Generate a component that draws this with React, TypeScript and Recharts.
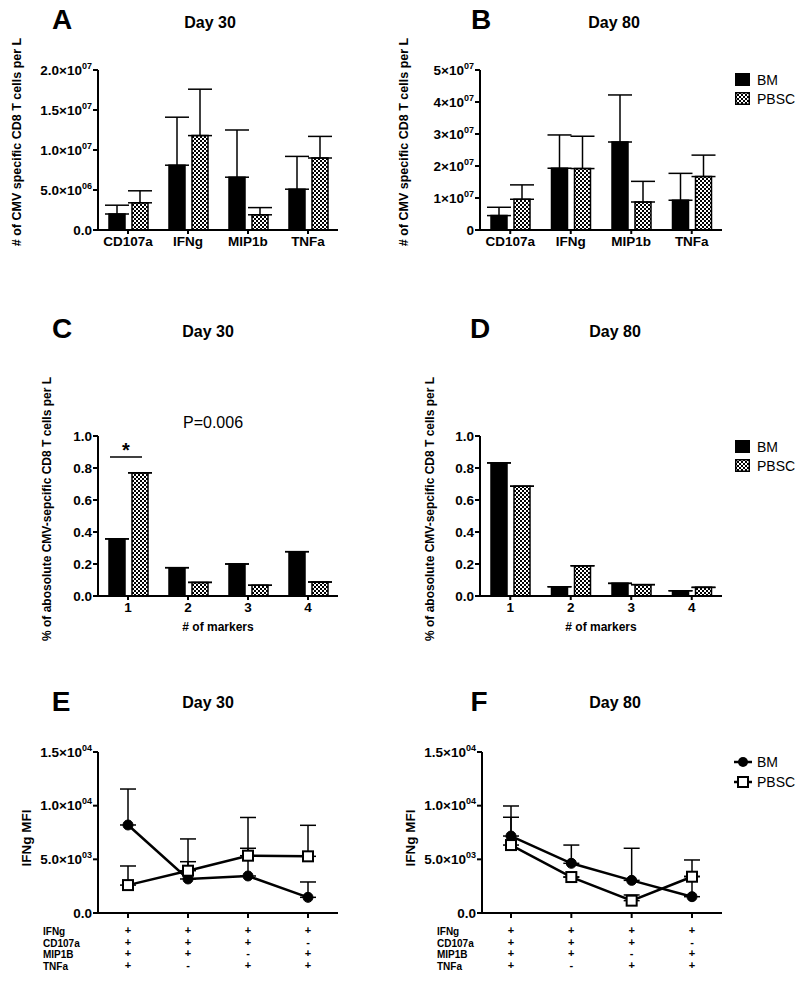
import React from 'react'
import { Bar, BarChart, ErrorBar, Line, LineChart, XAxis, YAxis } from 'recharts'

const FONT = '"Liberation Sans", Arial, Helvetica, sans-serif'

// A / B: cytokine-positive cells per L
const cytokines = ['CD107a', 'IFNg', 'MIP1b', 'TNFa']
const aBm = [2.0e6, 8.1e6, 6.6e6, 5.1e6]
const aBmErr = [1.1e6, 6.0e6, 5.9e6, 4.1e6]
const aPbsc = [3.4e6, 11.8e6, 1.9e6, 9.0e6]
const aPbscErr = [1.5e6, 5.8e6, 0.9e6, 2.7e6]
const bBm = [0.45e7, 1.93e7, 2.75e7, 0.93e7]
const bBmErr = [0.26e7, 1.04e7, 1.47e7, 0.84e7]
const bPbsc = [0.96e7, 1.92e7, 0.875e7, 1.67e7]
const bPbscErr = [0.45e7, 1.01e7, 0.645e7, 0.67e7]

// C / D: fraction by number of markers
const markerCounts = ['1', '2', '3', '4']
const cBm = [0.357, 0.177, 0.2, 0.277]
const cPbsc = [0.77, 0.085, 0.067, 0.0875]
const dBm = [0.832, 0.058, 0.079, 0.033]
const dPbsc = [0.686, 0.189, 0.071, 0.054]

// E / F: IFNg MFI per marker combination (rows: IFNg, CD107a, MIP1B, TNFa)
const comboRows = ['IFNg', 'CD107a', 'MIP1B', 'TNFa']
const combos = ['++++', '+++-', '++-+', '+-++']
const eBm = [8200, 3170, 3450, 1460]
const eBmErr = [3350, 1610, 2580, 1430]
const ePbsc = [2600, 3940, 5340, 5280]
const ePbscErr = [1780, 2960, 3560, 2890]
const fBm = [7170, 4630, 3040, 1520]
const fBmErr = [2800, 1700, 2990, 1900]
const fPbsc = [6330, 3350, 1150, 3380]
const fPbscErr = [2590, 0, 530, 1560]

const build = (names: string[], bm: number[], pbsc: number[], bmErr?: number[], pbscErr?: number[]) =>
  names.map((name, i) => ({
    name,
    bm: bm[i],
    pbsc: pbsc[i],
    bmErr: [0, bmErr ? bmErr[i] : 0],
    pbscErr: [0, pbscErr ? pbscErr[i] : 0],
  }))

type Fmt = (v: number) => [string, string?]

const sci = (digits: number): Fmt => (v) => {
  if (v === 0) return [digits ? (0).toFixed(digits) : '0']
  const e = Math.floor(Math.log10(v) + 1e-9)
  const m = v / Math.pow(10, e)
  return [`${m.toFixed(digits)}×10`, String(e).padStart(2, '0')]
}
const fixed1: Fmt = (v) => [v.toFixed(1)]

function YTick(props: any) {
  const { x, y, payload, fmt } = props
  const [base, exp] = (fmt as Fmt)(payload.value)
  return (
    <text x={x} y={y} dy={4.5} textAnchor="end" fontFamily={FONT} fontWeight="bold" fontSize={13.5} fill="#000">
      {base}
      {exp && (
        <tspan dy={-6} fontSize={9}>
          {exp}
        </tspan>
      )}
    </text>
  )
}

function ComboTick(props: any) {
  const { x, y, payload } = props
  return (
    <g>
      {String(payload.value)
        .split('')
        .map((s, i) => (
          <text key={i} x={x} y={y + 14 + i * 11.5} textAnchor="middle" fontFamily={FONT} fontWeight="bold" fontSize={11} fill="#000">
            {s}
          </text>
        ))}
    </g>
  )
}

function SquareDot(props: any) {
  const { cx, cy } = props
  if (cx == null || cy == null) return null
  return <rect x={cx - 5} y={cy - 5} width={10} height={10} fill="#fff" stroke="#000" strokeWidth={2} />
}

function CircleDot(props: any) {
  const { cx, cy } = props
  if (cx == null || cy == null) return null
  return <circle cx={cx} cy={cy} r={5} fill="#000" stroke="#000" />
}

const axisStyle = { stroke: '#000', strokeWidth: 2 }

function BarPanel(props: {
  left: number
  top: number
  height: number
  plotTop: number
  yWidth: number
  right: number
  data: any[]
  domain: [number, number]
  ticks: number[]
  fmt: Fmt
}) {
  const { left, top, height, plotTop, yWidth, right, data, domain, ticks, fmt } = props
  return (
    <div style={{ position: 'absolute', left, top }}>
      <BarChart
        width={400}
        height={height}
        data={data}
        margin={{ top: plotTop, right, bottom: 0, left: 0 }}
        barSize={16}
        barGap={7}
      >
        <XAxis
          dataKey="name"
          height={30}
          axisLine={axisStyle}
          tickLine={axisStyle}
          tickSize={4}
          tick={{ fill: '#000', fontSize: 13.5, fontWeight: 'bold', fontFamily: FONT }}
        />
        <YAxis
          width={yWidth}
          domain={domain}
          ticks={ticks}
          interval={0}
          axisLine={axisStyle}
          tickLine={axisStyle}
          tickSize={5}
          tickMargin={1}
          tick={<YTick fmt={fmt} />}
        />
        <Bar dataKey="bm" fill="#000" stroke="#000" strokeWidth={1.5} isAnimationActive={false}>
          <ErrorBar dataKey="bmErr" direction="y" width={12} stroke="#000" strokeWidth={1.5} isAnimationActive={false} />
        </Bar>
        <Bar dataKey="pbsc" fill="url(#chk)" stroke="#000" strokeWidth={1.5} isAnimationActive={false}>
          <ErrorBar dataKey="pbscErr" direction="y" width={12} stroke="#000" strokeWidth={1.5} isAnimationActive={false} />
        </Bar>
      </BarChart>
    </div>
  )
}

function LinePanel(props: { left: number; yWidth: number; right: number; padLeft: number; data: any[] }) {
  const { left, yWidth, right, padLeft, data } = props
  return (
    <div style={{ position: 'absolute', left, top: 660 }}>
      <LineChart width={400} height={322} data={data} margin={{ top: 92, right, bottom: 0, left: 0 }}>
        <XAxis
          dataKey="name"
          height={69}
          padding={{ left: padLeft, right: 30 }}
          axisLine={axisStyle}
          tickLine={axisStyle}
          tickSize={5}
          tickMargin={2}
          interval={0}
          tick={<ComboTick />}
        />
        <YAxis
          width={yWidth}
          domain={[0, 15000]}
          ticks={[0, 5000, 10000, 15000]}
          interval={0}
          axisLine={axisStyle}
          tickLine={axisStyle}
          tickSize={5}
          tickMargin={1}
          tick={<YTick fmt={sci(1)} />}
        />
        <Line
          type="linear"
          dataKey="bm"
          stroke="#000"
          strokeWidth={2.5}
          dot={<CircleDot />}
          activeDot={false}
          isAnimationActive={false}
        >
          <ErrorBar dataKey="bmErr" direction="y" width={8} stroke="#000" strokeWidth={1.5} isAnimationActive={false} />
        </Line>
        <Line
          type="linear"
          dataKey="pbsc"
          stroke="#000"
          strokeWidth={2.5}
          dot={<SquareDot />}
          activeDot={false}
          isAnimationActive={false}
        >
          <ErrorBar dataKey="pbscErr" direction="y" width={8} stroke="#000" strokeWidth={1.5} isAnimationActive={false} />
        </Line>
      </LineChart>
    </div>
  )
}

function Txt(props: {
  x: number
  y: number
  size: number
  bold?: boolean
  left?: boolean
  rotate?: boolean
  children: React.ReactNode
}) {
  const { x, y, size, bold, left, rotate, children } = props
  const tr = `${left ? 'translate(0,-50%)' : 'translate(-50%,-50%)'}${rotate ? ' rotate(-90deg)' : ''}`
  return (
    <div
      style={{
        position: 'absolute',
        left: x,
        top: y,
        transform: tr,
        fontSize: size,
        fontWeight: bold ? 'bold' : 'normal',
        whiteSpace: 'nowrap',
        lineHeight: 1,
      }}
    >
      {children}
    </div>
  )
}

function BoxLegend({ top }: { top: number }) {
  return (
    <>
      <div style={{ position: 'absolute', left: 735, top, width: 15, height: 13, background: '#000' }} />
      <Txt x={757} y={top + 7} size={14} left>
        BM
      </Txt>
      <svg style={{ position: 'absolute', left: 735, top: top + 19 }} width={15} height={13}>
        <rect x={0.75} y={0.75} width={13.5} height={11.5} fill="url(#chk)" stroke="#000" strokeWidth={1.5} />
      </svg>
      <Txt x={757} y={top + 26} size={14} left>
        PBSC
      </Txt>
    </>
  )
}

export default function App() {
  const dataA = build(cytokines, aBm, aPbsc, aBmErr, aPbscErr)
  const dataB = build(cytokines, bBm, bPbsc, bBmErr, bPbscErr)
  const dataC = build(markerCounts, cBm, cPbsc)
  const dataD = build(markerCounts, dBm, dPbsc)
  const dataE = build(combos, eBm, ePbsc, eBmErr, ePbscErr)
  const dataF = build(combos, fBm, fPbsc, fBmErr, fPbscErr)
  const fracTicks = [0, 0.2, 0.4, 0.6, 0.8, 1.0]

  return (
    <div
      style={{
        position: 'absolute',
        left: 0,
        top: 0,
        width: 800,
        height: 982,
        background: '#fff',
        fontFamily: FONT,
        color: '#000',
        overflow: 'hidden',
      }}
    >
      <svg width={0} height={0} style={{ position: 'absolute' }}>
        <defs>
          <pattern id="chk" width={4} height={4} patternUnits="userSpaceOnUse">
            <rect width={4} height={4} fill="#fff" />
            <rect width={2} height={2} fill="#000" />
            <rect x={2} y={2} width={2} height={2} fill="#000" />
          </pattern>
        </defs>
      </svg>

      {/* A / B */}
      <BarPanel left={0} top={0} height={260} plotTop={70} yWidth={98} right={62} data={dataA}
        domain={[0, 2e7]} ticks={[0, 5e6, 1e7, 1.5e7, 2e7]} fmt={sci(1)} />
      <BarPanel left={400} top={0} height={260} plotTop={70} yWidth={80} right={78} data={dataB}
        domain={[0, 5e7]} ticks={[0, 1e7, 2e7, 3e7, 4e7, 5e7]} fmt={sci(0)} />

      {/* C / D */}
      <BarPanel left={0} top={300} height={326} plotTop={136} yWidth={98} right={62} data={dataC}
        domain={[0, 1]} ticks={fracTicks} fmt={fixed1} />
      <BarPanel left={400} top={300} height={326} plotTop={136} yWidth={80} right={78} data={dataD}
        domain={[0, 1]} ticks={fracTicks} fmt={fixed1} />

      {/* E / F */}
      <LinePanel left={0} yWidth={98} right={62} padLeft={30} data={dataE} />
      <LinePanel left={400} yWidth={82} right={78} padLeft={29} data={dataF} />

      {/* panel letters and titles */}
      <Txt x={62} y={20} size={28} bold>A</Txt>
      <Txt x={210} y={23} size={16} bold>Day 30</Txt>
      <Txt x={481} y={20} size={28} bold>B</Txt>
      <Txt x={614} y={23} size={16} bold>Day 80</Txt>
      <Txt x={62} y={329} size={28} bold>C</Txt>
      <Txt x={208} y={332} size={16} bold>Day 30</Txt>
      <Txt x={480} y={329} size={28} bold>D</Txt>
      <Txt x={615} y={332} size={16} bold>Day 80</Txt>
      <Txt x={61} y={702} size={28} bold>E</Txt>
      <Txt x={208} y={703} size={16} bold>Day 30</Txt>
      <Txt x={479} y={702} size={28} bold>F</Txt>
      <Txt x={615} y={703} size={16} bold>Day 80</Txt>

      {/* axis titles */}
      <Txt x={17} y={142} size={12.5} bold rotate># of CMV specific CD8 T cells per L</Txt>
      <Txt x={404} y={142} size={12.5} bold rotate># of CMV specific CD8 T cells per L</Txt>
      <Txt x={47} y={509} size={12} bold rotate>% of abosolute CMV-sepcific CD8 T cells per L</Txt>
      <Txt x={430} y={509} size={12} bold rotate>% of abosolute CMV-sepcific CD8 T cells per L</Txt>
      <Txt x={218} y={627} size={12} bold># of markers</Txt>
      <Txt x={601} y={627} size={12} bold># of markers</Txt>
      <Txt x={27} y={838} size={13.5} bold rotate>IFNg MFI</Txt>
      <Txt x={411} y={838} size={13.5} bold rotate>IFNg MFI</Txt>

      {/* marker combination row labels */}
      {comboRows.map((r, i) => (
        <React.Fragment key={r}>
          <Txt x={43} y={932 + i * 11.5} size={10} bold left>{r}</Txt>
          <Txt x={437} y={932 + i * 11.5} size={10} bold left>{r}</Txt>
        </React.Fragment>
      ))}

      {/* significance annotation */}
      <Txt x={213} y={423} size={16}>P=0.006</Txt>
      <svg style={{ position: 'absolute', left: 100, top: 440 }} width={60} height={30}>
        <line x1={10} y1={17} x2={42} y2={17} stroke="#000" strokeWidth={1.5} />
      </svg>
      <Txt x={126} y={450} size={20} bold>*</Txt>

      {/* legends */}
      <BoxLegend top={73} />
      <BoxLegend top={440} />
      <svg style={{ position: 'absolute', left: 732, top: 752 }} width={22} height={40}>
        <line x1={2} y1={10} x2={20} y2={10} stroke="#000" strokeWidth={2.5} />
        <circle cx={11} cy={10} r={5} fill="#000" />
        <line x1={2} y1={30} x2={20} y2={30} stroke="#000" strokeWidth={2.5} />
        <rect x={6} y={25} width={10} height={10} fill="#fff" stroke="#000" strokeWidth={2} />
      </svg>
      <Txt x={757} y={762} size={14} left>BM</Txt>
      <Txt x={757} y={782} size={14} left>PBSC</Txt>
    </div>
  )
}
